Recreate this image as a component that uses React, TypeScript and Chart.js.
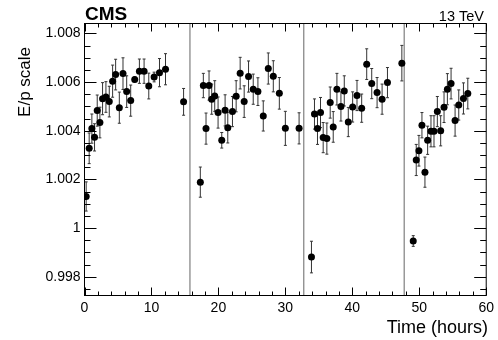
import React, { useEffect, useRef } from "react";
import { Chart, registerables } from "chart.js";

Chart.register(...registerables);

// ---- Data ----
const TIME_HOURS = [
  0.25, 0.7, 1.1, 1.5, 1.9, 2.3, 2.7, 3.2, 3.7, 4.2, 4.65, 5.2, 5.75, 6.3, 6.9, 7.5, 8.2, 8.9, 9.6, 10.4, 11.2, 12.1, 14.8,
  17.3, 17.75, 18.15, 18.6, 19.0, 19.45, 19.95, 20.5, 21.0, 21.4, 22.1, 22.65, 23.25, 23.85, 24.5, 25.2, 25.9, 26.7, 27.45, 28.2, 29.1, 30.0, 32.05,
  33.9, 34.35, 34.8, 35.25, 35.65, 36.2, 36.7, 37.15, 37.7, 38.3, 38.8, 39.4, 40.05, 40.7, 41.4, 42.15, 42.9, 43.7, 44.45, 45.25, 47.4,
  49.1, 49.55, 49.95, 50.4, 50.85, 51.25, 51.75, 52.2, 52.7, 53.2, 53.7, 54.2, 54.75, 55.35, 55.9, 56.6, 57.25,
];

const EP_SCALE = [
  1.0013, 1.00328, 1.00409, 1.00373, 1.00483, 1.00434, 1.00532, 1.00539, 1.0052, 1.00604, 1.00631, 1.00495, 1.00635, 1.00561, 1.00524, 1.00611, 1.00645, 1.00645, 1.00584, 1.00621, 1.00639, 1.00653, 1.00519,
  1.00189, 1.00586, 1.00409, 1.00586, 1.0053, 1.00543, 1.00475, 1.00361, 1.00484, 1.00413, 1.00479, 1.00542, 1.00637, 1.0052, 1.00623, 1.00571, 1.00561, 1.00461, 1.00656, 1.00624, 1.00554, 1.0041, 1.0041,
  0.99881, 1.00469, 1.00409, 1.00475, 1.00372, 1.00368, 1.00516, 1.00416, 1.00571, 1.005, 1.00564, 1.00436, 1.00498, 1.00545, 1.00493, 1.00674, 1.00594, 1.00557, 1.0053, 1.00598, 1.00678,
  0.99947, 1.0028, 1.00318, 1.00423, 1.0023, 1.00361, 1.00398, 1.00398, 1.00479, 1.004, 1.00497, 1.00571, 1.00594, 1.00442, 1.00506, 1.00533, 1.00553,
];

const EP_ERROR = [
  0.0006, 0.00063, 0.0006, 0.00056, 0.00064, 0.00063, 0.00066, 0.00063, 0.00063, 0.00066, 0.00063, 0.00064, 0.00065, 0.00065, 0.00064, 0.0001, 0.0005, 0.0005, 0.00053, 0.0002, 0.00058, 0.00064, 0.00055,
  0.00062, 0.0005, 0.00064, 0.0006, 0.00062, 0.00063, 0.00064, 0.00032, 0.00064, 0.00063, 0.00062, 0.00064, 0.00065, 0.00065, 0.00064, 0.00062, 0.00057, 0.00062, 0.00064, 0.00064, 0.00065, 0.0007, 0.00064,
  0.00065, 0.00062, 0.00065, 0.00062, 0.00062, 0.00064, 0.00064, 0.00063, 0.00065, 0.0006, 0.00062, 0.0006, 0.00062, 0.00062, 0.00058, 0.00063, 0.00062, 0.00062, 0.00062, 0.00062, 0.00073,
  0.00022, 0.00064, 0.00063, 0.00052, 0.00062, 0.00058, 0.00064, 0.00064, 0.00062, 0.00062, 0.00063, 0.00064, 0.00063, 0.00064, 0.00062, 0.00064, 0.00063,
];

const RUN_BOUNDARIES = [15.75, 32.75, 47.75];

const X_MIN = 0;
const X_MAX = 60;
const Y_MIN = 0.99723;
const Y_MAX = 1.00841;

const X_TICKS = [0, 10, 20, 30, 40, 50, 60];
const X_TICK_LABELS = ["0", "10", "20", "30", "40", "50", "60"];
const Y_TICKS = [0.998, 1.0, 1.002, 1.004, 1.006, 1.008];
const Y_TICK_LABELS = ["0.998", "1", "1.002", "1.004", "1.006", "1.008"];

const X_TITLE = "Time (hours)";
const Y_TITLE = "E/p scale";
const EXPERIMENT = "CMS";
const ENERGY = "13 TeV";

const FONT = "'Liberation Sans', Arial, Helvetica, sans-serif";

const decorPlugin = {
  id: "cmsDecor",
  beforeDatasetsDraw(chart: any) {
    const { ctx, chartArea, scales } = chart;
    const { top, bottom } = chartArea;
    const x = scales.x;
    const y = scales.y;
    ctx.save();
    // run boundaries
    ctx.strokeStyle = "#7f7f7f";
    ctx.lineWidth = 1.2;
    for (const b of RUN_BOUNDARIES) {
      const px = x.getPixelForValue(b);
      ctx.beginPath();
      ctx.moveTo(px, top);
      ctx.lineTo(px, bottom);
      ctx.stroke();
    }
    // error bars
    ctx.strokeStyle = "#333";
    ctx.lineWidth = 1;
    for (let i = 0; i < TIME_HOURS.length; i++) {
      const px = x.getPixelForValue(TIME_HOURS[i]);
      const y1 = y.getPixelForValue(EP_SCALE[i] - EP_ERROR[i]);
      const y2 = y.getPixelForValue(EP_SCALE[i] + EP_ERROR[i]);
      ctx.beginPath();
      ctx.moveTo(px, y1);
      ctx.lineTo(px, y2);
      ctx.moveTo(px - 1.5, y1);
      ctx.lineTo(px + 1.5, y1);
      ctx.moveTo(px - 1.5, y2);
      ctx.lineTo(px + 1.5, y2);
      ctx.stroke();
    }
    ctx.restore();
  },
  afterDraw(chart: any) {
    const { ctx, chartArea, scales } = chart;
    const { left, right, top, bottom } = chartArea;
    const x = scales.x;
    const y = scales.y;
    ctx.save();
    ctx.strokeStyle = "#000";
    ctx.lineWidth = 1;
    ctx.strokeRect(left, top, right - left, bottom - top);

    ctx.beginPath();
    // x ticks (major every 10, minor every 2)
    const xMinorStep = (X_TICKS[1] - X_TICKS[0]) / 5;
    for (let v = X_MIN; v <= X_MAX + 1e-9; v += xMinorStep) {
      const isMajor = X_TICKS.some((t) => Math.abs(t - v) < 1e-6);
      const len = isMajor ? 8 : 4;
      const px = Math.round(x.getPixelForValue(v)) + 0.5;
      ctx.moveTo(px, bottom);
      ctx.lineTo(px, bottom - len);
      ctx.moveTo(px, top);
      ctx.lineTo(px, top + len);
    }
    // y ticks (major every 0.002, minor every 0.0005)
    const yMinorStep = (Y_TICKS[1] - Y_TICKS[0]) / 4;
    const start = Math.ceil(Y_MIN / yMinorStep - 1e-6) * yMinorStep;
    for (let v = start; v <= Y_MAX + 1e-9; v += yMinorStep) {
      const isMajor = Y_TICKS.some((t) => Math.abs(t - v) < 1e-7);
      const len = isMajor ? 12 : 6;
      const py = Math.round(y.getPixelForValue(v)) + 0.5;
      ctx.moveTo(left, py);
      ctx.lineTo(left + len, py);
      ctx.moveTo(right, py);
      ctx.lineTo(right - len, py);
    }
    ctx.stroke();

    // texts
    ctx.fillStyle = "#000";
    ctx.textBaseline = "alphabetic";
    ctx.font = `bold 19px ${FONT}`;
    ctx.textAlign = "left";
    ctx.fillText(EXPERIMENT, 85, 20);

    ctx.font = `14.5px ${FONT}`;
    ctx.textAlign = "right";
    ctx.fillText(ENERGY, 484, 20.5);

    ctx.font = `18px ${FONT}`;
    ctx.textAlign = "right";
    ctx.fillText(X_TITLE, 488, 333);

    ctx.save();
    ctx.translate(30, 47);
    ctx.rotate(-Math.PI / 2);
    ctx.font = `17px ${FONT}`;
    ctx.textAlign = "right";
    ctx.fillText(Y_TITLE, 0, 0);
    ctx.restore();

    ctx.restore();
  },
};

export default function App() {
  const canvasRef = useRef<HTMLCanvasElement | null>(null);

  useEffect(() => {
    document.body.style.margin = "0";
    const canvas = canvasRef.current;
    if (!canvas) return;
    const points = TIME_HOURS.map((t, i) => ({ x: t, y: EP_SCALE[i] }));
    const chart = new Chart(canvas, {
      type: "scatter",
      data: {
        datasets: [
          {
            data: points,
            backgroundColor: "#000",
            borderColor: "#000",
            borderWidth: 0,
            pointRadius: 3.5,
          },
        ],
      },
      options: {
        animation: false,
        responsive: false,
        devicePixelRatio: 1,
        layout: { padding: { left: 0, right: 10.5, top: 23.5, bottom: 0 } },
        plugins: {
          legend: { display: false },
          tooltip: { enabled: false },
          title: { display: false },
        },
        scales: {
          x: {
            type: "linear",
            min: X_MIN,
            max: X_MAX,
            grid: { display: false, drawTicks: false },
            border: { display: false },
            afterBuildTicks: (scale: any) => {
              scale.ticks = X_TICKS.map((v) => ({ value: v }));
            },
            afterFit: (scale: any) => {
              scale.height = 44.5;
            },
            ticks: {
              color: "#000",
              font: { family: FONT, size: 14 },
              padding: 4,
              maxRotation: 0,
              autoSkip: false,
              callback: (v: any) => {
                const i = X_TICKS.findIndex((t) => Math.abs(t - Number(v)) < 1e-6);
                return i >= 0 ? X_TICK_LABELS[i] : "";
              },
            },
          },
          y: {
            type: "linear",
            min: Y_MIN,
            max: Y_MAX,
            grid: { display: false, drawTicks: false },
            border: { display: false },
            afterBuildTicks: (scale: any) => {
              scale.ticks = Y_TICKS.map((v) => ({ value: v }));
            },
            afterFit: (scale: any) => {
              scale.width = 84.5;
            },
            ticks: {
              color: "#000",
              font: { family: FONT, size: 14 },
              padding: 4,
              autoSkip: false,
              callback: (v: any) => {
                const i = Y_TICKS.findIndex((t) => Math.abs(t - Number(v)) < 1e-7);
                return i >= 0 ? Y_TICK_LABELS[i] : "";
              },
            },
          },
        },
      },
      plugins: [decorPlugin],
    });
    return () => chart.destroy();
  }, []);

  return (
    <div style={{ position: "absolute", left: 0, top: 0, width: 498, height: 340, background: "#fff" }}>
      <canvas ref={canvasRef} width={498} height={340} style={{ width: 498, height: 340, display: "block" }} />
    </div>
  );
}
